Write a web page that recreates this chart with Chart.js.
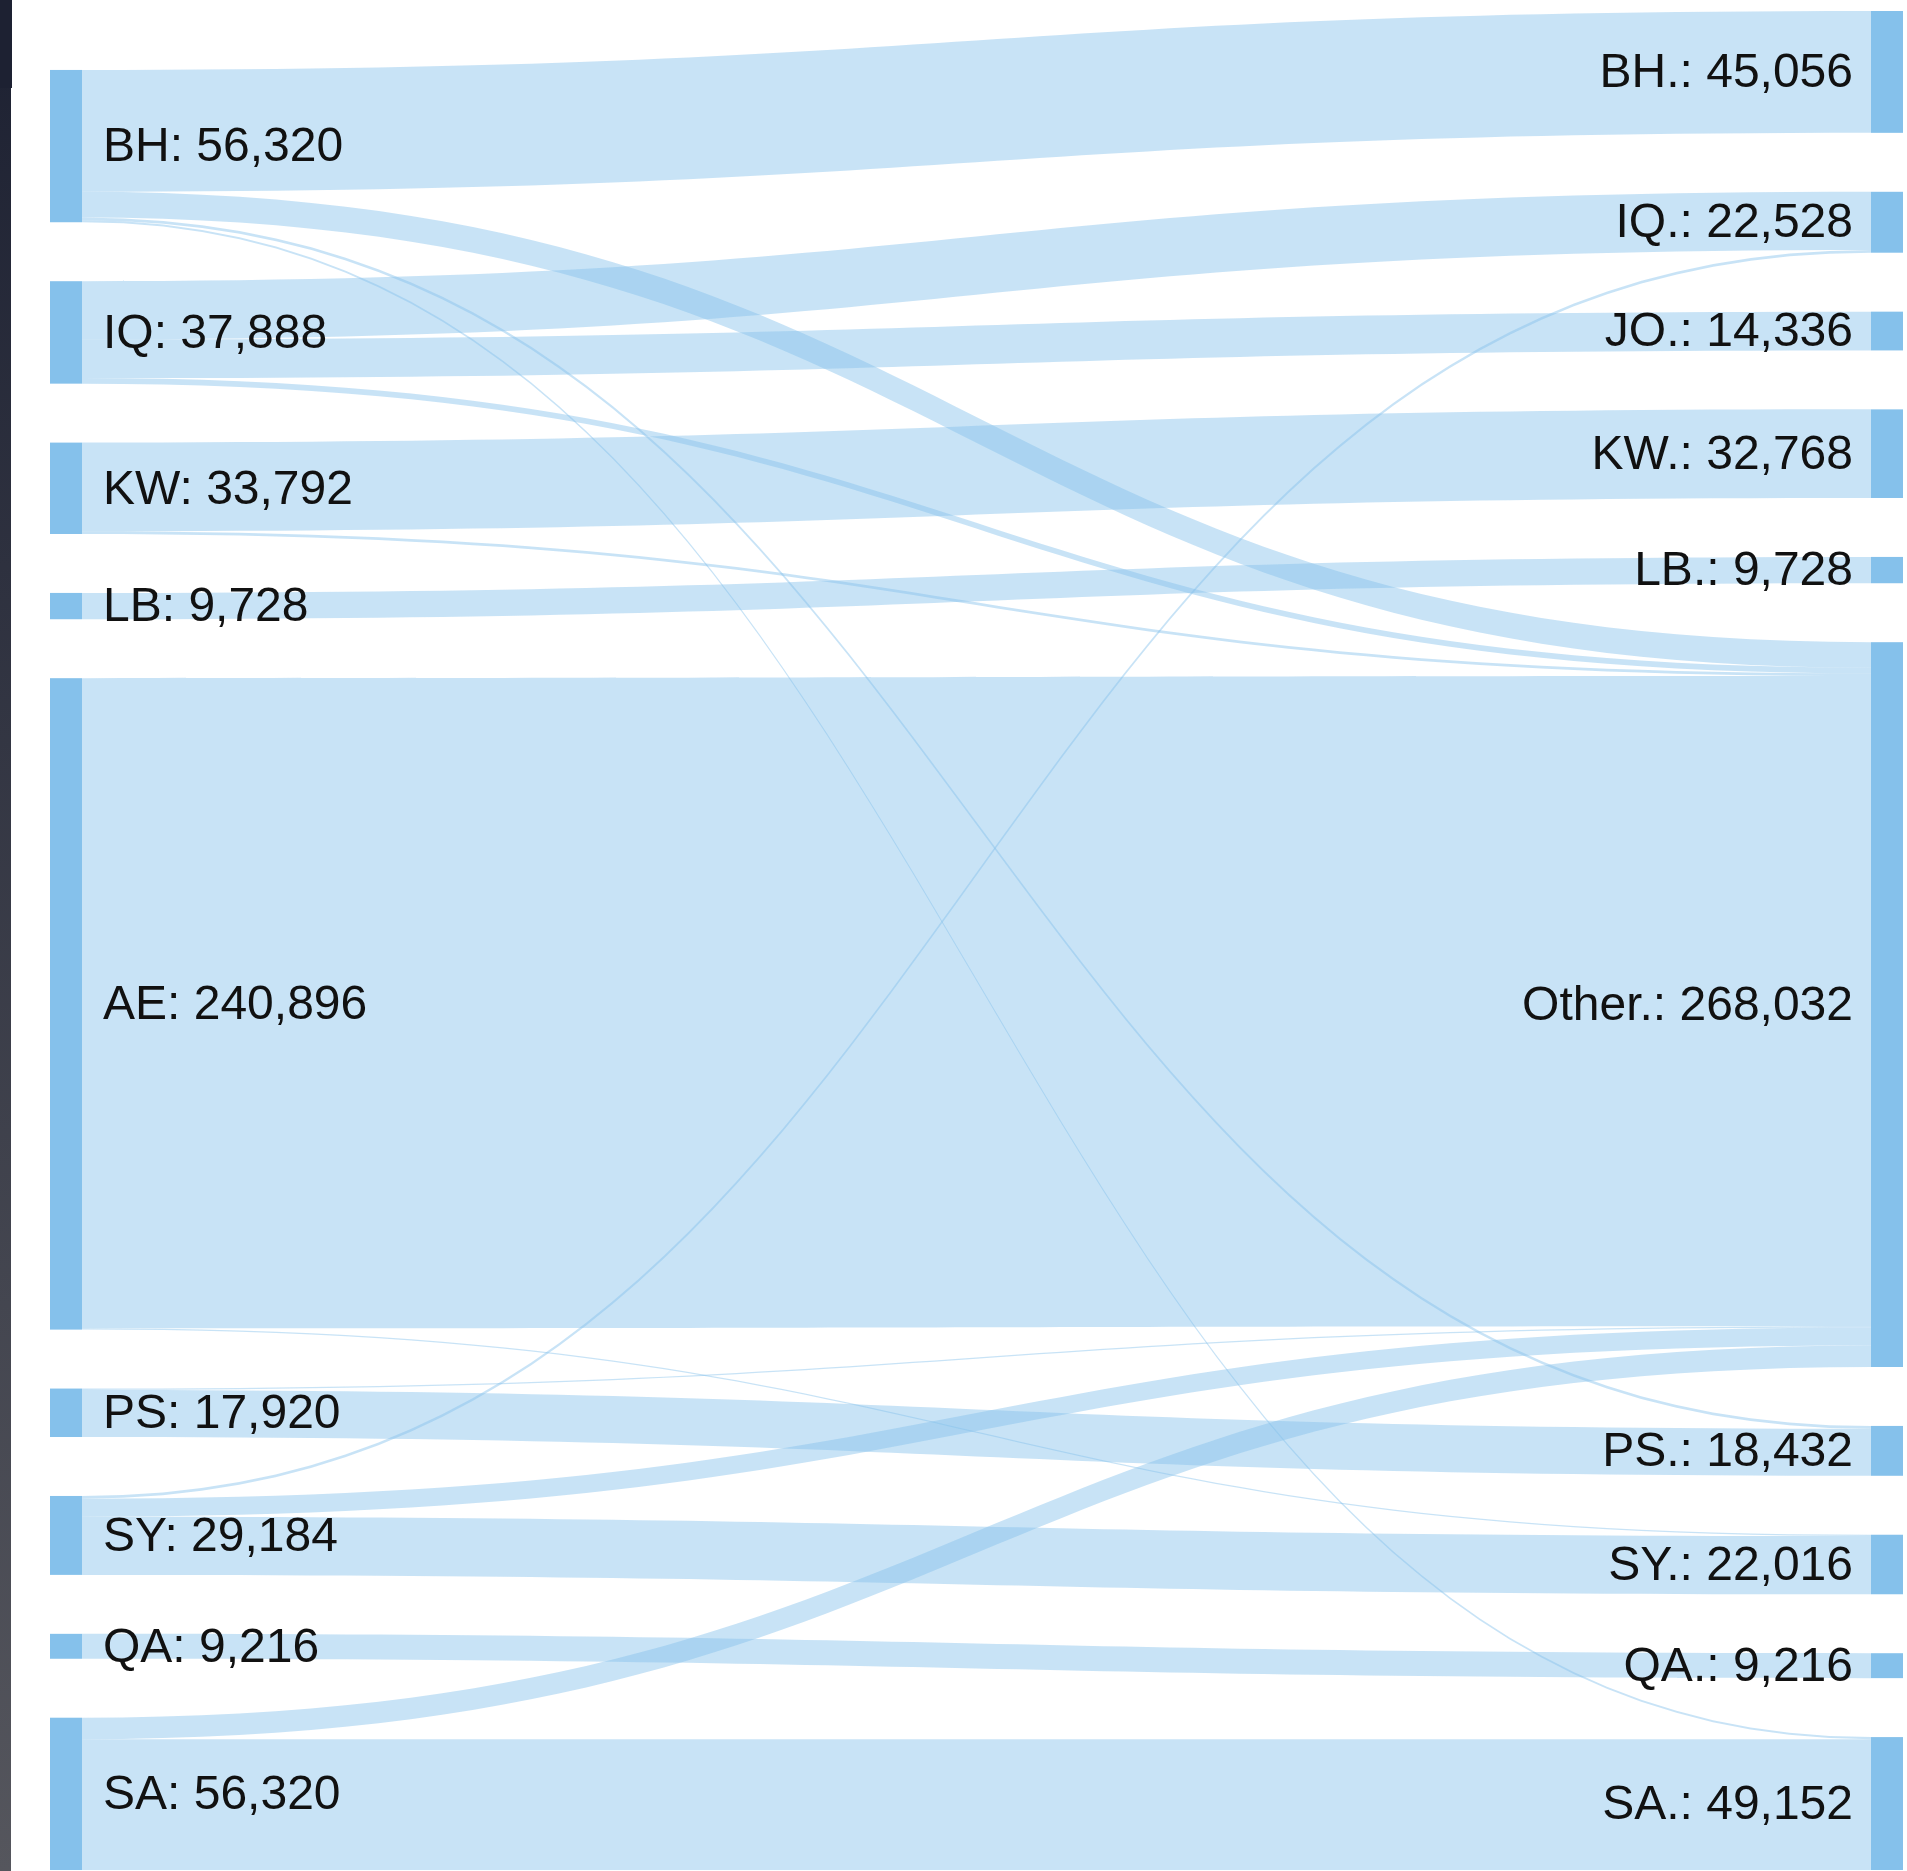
<!DOCTYPE html>
<html>
<head>
<meta charset="utf-8">
<script src="https://cdn.jsdelivr.net/npm/chart.js@4.4.1/dist/chart.umd.min.js"></script>
<style>
  html, body { margin: 0; padding: 0; background: #fff; }
  #wrap { position: relative; width: 1907px; height: 1871px; overflow: hidden; }
  #edge { position: absolute; left: 0; top: 0; width: 11px; height: 1871px; background: linear-gradient(#1d2132, #55565d); }
  #edgeTop { position: absolute; left: 0; top: 0; width: 12px; height: 88px; background: #1d2132; }
</style>
</head>
<body>
<div id="wrap">
  <canvas id="sankey"></canvas>
  <div id="edge"></div><div id="edgeTop"></div>
</div>
<script>
// nodes, top to bottom in each column
const sourceNodes = ['BH', 'IQ', 'KW', 'LB', 'AE', 'PS', 'SY', 'QA', 'SA'];
const targetNodes = ['BH.', 'IQ.', 'JO.', 'KW.', 'LB.', 'Other.', 'PS.', 'SY.', 'QA.', 'SA.'];

// flows
const flowFrom = ['BH', 'BH', 'BH', 'BH', 'IQ', 'IQ', 'IQ', 'KW', 'KW', 'LB', 'AE', 'AE', 'PS', 'PS', 'SY', 'SY', 'SY', 'QA', 'SA', 'SA'];
const flowTo = ['BH.', 'Other.', 'PS.', 'SA.', 'IQ.', 'JO.', 'Other.', 'KW.', 'Other.', 'LB.', 'Other.', 'SY.', 'PS.', 'Other.', 'IQ.', 'Other.', 'SY.', 'QA.', 'Other.', 'SA.'];
const flowValues = [45056, 9472, 1024, 768, 21504, 14336, 2048, 32768, 1024, 9728, 240384, 512, 17408, 512, 1024, 6656, 21504, 9216, 7936, 48384];

const NODE_W = 32;
const NODE_PAD = 21800;          // gap between nodes, in value units
const NODE_COLOR = '#85c1eb';
const FLOW_COLOR = 'rgba(133, 193, 235, 0.45)';
const LABEL_FONT = '48px "Liberation Sans", Arial, Helvetica, sans-serif';

// --- layout in value units ---
const nodes = {};
sourceNodes.forEach((n, i) => nodes[n] = { name: n, col: 0, idx: i, out: 0, inn: 0 });
targetNodes.forEach((n, i) => nodes[n] = { name: n, col: 1, idx: i, out: 0, inn: 0 });
const links = flowValues.map((v, i) => ({ from: nodes[flowFrom[i]], to: nodes[flowTo[i]], value: v }));
links.forEach(l => { l.from.out += l.value; l.to.inn += l.value; });

const maxCount = Math.max(sourceNodes.length, targetNodes.length);
let yMax = 0;
[sourceNodes, targetNodes].forEach(col => {
  let y = (maxCount - col.length) * NODE_PAD;
  col.forEach(n => {
    const node = nodes[n];
    node.value = Math.max(node.out, node.inn);
    node.y0 = y;
    node.y1 = y + node.value;
    y = node.y1 + NODE_PAD;
  });
  yMax = Math.max(yMax, y - NODE_PAD);
});

// stack links on each side
Object.values(nodes).forEach(node => {
  let y = node.y0;
  links.filter(l => l.from === node).sort((a, b) => a.to.idx - b.to.idx).forEach(l => {
    l.sy0 = y; l.sy1 = y + l.value; y += l.value;
  });
  y = node.y0;
  links.filter(l => l.to === node).sort((a, b) => a.from.idx - b.from.idx).forEach(l => {
    l.ty0 = y; l.ty1 = y + l.value; y += l.value;
  });
});

const sankeyPlugin = {
  id: 'sankey',
  afterDatasetsDraw(chart) {
    const ctx = chart.ctx;
    const xs = chart.scales.x, ys = chart.scales.y;
    const xL = xs.getPixelForValue(0), xR = xs.getPixelForValue(1);
    const x0 = xL + NODE_W, x1 = xR - NODE_W, xm = (x0 + x1) / 2;

    ctx.save();
    // flows
    ctx.fillStyle = FLOW_COLOR;
    links.forEach(l => {
      const a0 = ys.getPixelForValue(l.sy0), a1 = ys.getPixelForValue(l.sy1);
      const b0 = ys.getPixelForValue(l.ty0), b1 = ys.getPixelForValue(l.ty1);
      ctx.beginPath();
      ctx.moveTo(x0, a0);
      ctx.bezierCurveTo(xm, a0, xm, b0, x1, b0);
      ctx.lineTo(x1, b1);
      ctx.bezierCurveTo(xm, b1, xm, a1, x0, a1);
      ctx.closePath();
      ctx.fill();
    });

    // nodes
    ctx.fillStyle = NODE_COLOR;
    Object.values(nodes).forEach(node => {
      const top = ys.getPixelForValue(node.y0), bot = ys.getPixelForValue(node.y1);
      const x = node.col === 0 ? xL : x1;
      ctx.fillRect(x, top, NODE_W, bot - top);
    });

    // labels
    ctx.font = LABEL_FONT;
    ctx.fillStyle = '#111';
    ctx.textBaseline = 'middle';
    Object.values(nodes).forEach(node => {
      const yc = ys.getPixelForValue((node.y0 + node.y1) / 2) + 2;
      const txt = node.name + ': ' + node.value.toLocaleString('en-US');
      if (node.col === 0) {
        ctx.textAlign = 'left';
        ctx.fillText(txt, x0 + 21, yc);
      } else {
        ctx.textAlign = 'right';
        ctx.fillText(txt, x1 - 18, yc);
      }
    });
    ctx.restore();
  }
};

new Chart(document.getElementById('sankey'), {
  type: 'scatter',
  data: { datasets: [{ data: [] }] },
  options: {
    responsive: true,
    maintainAspectRatio: false,
    animation: false,
    layout: { padding: { left: 50, right: 4, top: 11, bottom: 1 } },
    plugins: { legend: { display: false }, tooltip: { enabled: false } },
    scales: {
      x: { type: 'linear', min: 0, max: 1, display: false },
      y: { type: 'linear', min: 0, max: yMax, reverse: true, display: false }
    }
  },
  plugins: [sankeyPlugin]
});
</script>
</body>
</html>
